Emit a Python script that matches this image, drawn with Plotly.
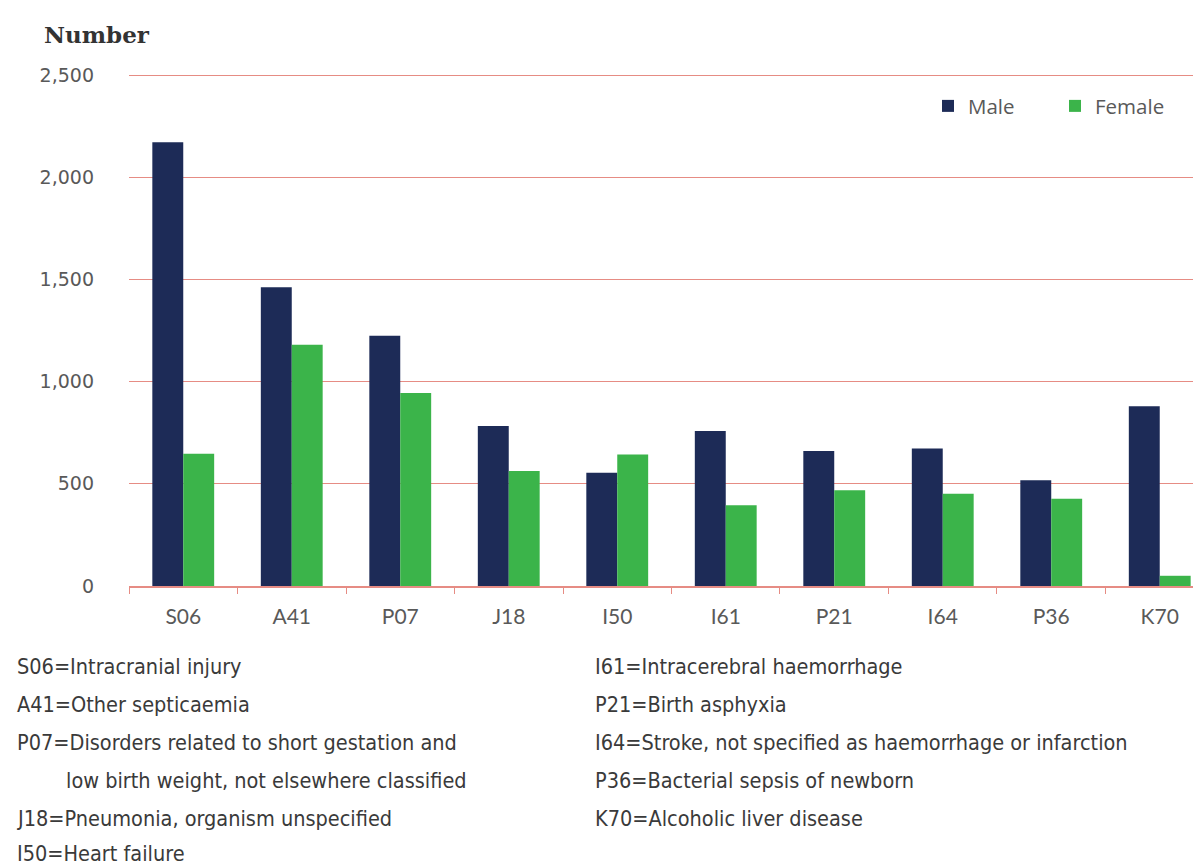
import plotly.graph_objects as go

categories = ["S06", "A41", "P07", "J18", "I50", "I61", "P21", "I64", "P36", "K70"]
male = [2171, 1462, 1225, 783, 554, 758, 660, 673, 518, 880]
female = [647, 1181, 945, 563, 644, 395, 469, 452, 427, 50]
y_ticks = [0, 500, 1000, 1500, 2000, 2500]
y_tick_labels = ["0", "500", "1,000", "1,500", "2,000", "2,500"]

notes_left = [
    "S06=Intracranial injury",
    "A41=Other septicaemia",
    "P07=Disorders related to short gestation and",
    "      low birth weight, not elsewhere classified",
    "J18=Pneumonia, organism unspecified",
    "I50=Heart failure",
]
notes_right = [
    "I61=Intracerebral haemorrhage",
    "P21=Birth asphyxia",
    "I64=Stroke, not specified as haemorrhage or infarction",
    "P36=Bacterial sepsis of newborn",
    "K70=Alcoholic liver disease",
]

W, H = 1201, 865
L, R, T, B = 121, 0, 62.9, 286.5
PW = W - L - R
PH = H - T - B


def px_x(px):
    return (px - L) / PW


def px_y(py):
    return (H - B - py) / PH


MALE_C = "rgb(29,43,87)"
FEMALE_C = "rgb(59,180,74)"
GRID_C = "rgb(230,140,132)"
TEXT_C = "rgb(89,89,89)"

fig = go.Figure()
fig.add_trace(go.Bar(x=categories, y=male, name="Male", marker=dict(color=MALE_C, line=dict(width=0))))
fig.add_trace(go.Bar(x=categories, y=female, name="Female", marker=dict(color=FEMALE_C, line=dict(width=0))))

annotations = [
    dict(text="<b>Number</b>", x=px_x(35), y=px_y(26), xref="paper", yref="paper",
         xanchor="left", yanchor="middle", showarrow=False, borderpad=0,
         font=dict(family="DejaVu Serif", size=23, color="rgb(51,51,51)")),
]
row_y = [659, 697, 735, 773, 811, 846]
note_font = dict(family="Liberation Sans Narrow, DejaVu Sans Condensed, Arial Narrow, sans-serif",
                 size=21.5, color="rgb(58,58,58)")
for i, t in enumerate(notes_left):
    x0 = 8
    txt = t
    if t.startswith("      "):
        x0 = 57
        txt = t.strip()
    annotations.append(dict(text=txt, x=px_x(x0), y=px_y(row_y[i]), xref="paper", yref="paper",
                            xanchor="left", yanchor="middle", showarrow=False, borderpad=0, font=note_font))
for i, t in enumerate(notes_right):
    annotations.append(dict(text=t, x=px_x(586), y=px_y(row_y[i]), xref="paper", yref="paper",
                            xanchor="left", yanchor="middle", showarrow=False, borderpad=0, font=note_font))

fig.update_layout(
    template="none",
    width=W, height=H,
    margin=dict(l=L, r=R, t=T, b=B, autoexpand=False),
    paper_bgcolor="white", plot_bgcolor="white",
    barmode="group", bargap=0.43, bargroupgap=0,
    showlegend=True,
    legend=dict(orientation="h", x=px_x(920), y=px_y(98), xanchor="left", yanchor="middle",
                font=dict(family="Open Sans", size=20.5, color=TEXT_C), bgcolor="rgba(0,0,0,0)",
                entrywidth=82, entrywidthmode="pixels", traceorder="normal"),
    xaxis=dict(type="category", range=[-0.5, 9.454], showgrid=False,
               showline=True, linecolor=GRID_C, linewidth=1.5,
               ticks="outside", tickson="boundaries", ticklen=6, tickcolor=GRID_C, tickwidth=1,
               tickfont=dict(family="Lato", size=21, color=TEXT_C), ticklabelstandoff=11,
               zeroline=False),
    yaxis=dict(range=[0, 2520], tickvals=y_ticks, ticktext=y_tick_labels,
               showgrid=True, gridcolor=GRID_C, gridwidth=1.2,
               showline=False, zeroline=False, ticks="",
               tickfont=dict(family="DejaVu Sans", size=19, color=TEXT_C), ticklabelstandoff=34),
    annotations=annotations,
)

fig.write_html("out.html")
